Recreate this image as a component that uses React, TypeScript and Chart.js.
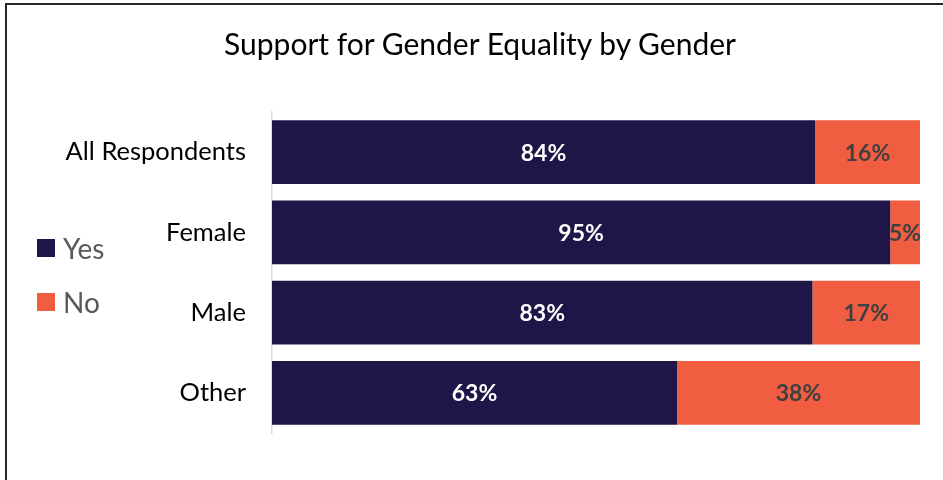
import React, { useEffect, useRef } from "react";
import { Chart, registerables } from "chart.js";

Chart.register(...registerables);

const categories = ["All Respondents", "Female", "Male", "Other"];
const yesValues = [83.8, 95.4, 83.4, 62.5];
const noValues = [16.2, 4.6, 16.6, 37.5];
const seriesNames = ["Yes", "No"];
const seriesColors = ["#201547", "#F15D41"];
const labelColors = ["#FFFFFF", "#404040"];
const titleText = "Support for Gender Equality by Gender";

const FONT = "Lato, 'Open Sans', sans-serif";

const valueLabels = {
  id: "valueLabels",
  afterDatasetsDraw(chart: any) {
    const ctx = chart.ctx;
    ctx.save();
    ctx.font = `bold 23px ${FONT}`;
    ctx.textAlign = "center";
    ctx.textBaseline = "middle";
    chart.data.datasets.forEach((ds: any, di: number) => {
      const meta = chart.getDatasetMeta(di);
      meta.data.forEach((bar: any, i: number) => {
        const v = ds.data[i];
        const x = (bar.x + bar.base) / 2;
        ctx.fillStyle = labelColors[di];
        ctx.fillText(Math.round(v) + "%", x, bar.y + 1);
      });
    });
    ctx.restore();
  },
};

export default function App() {
  const ref = useRef<HTMLCanvasElement>(null);
  useEffect(() => {
    const chart = new Chart(ref.current!, {
      type: "bar",
      data: {
        labels: categories,
        datasets: [
          { label: seriesNames[0], data: yesValues, backgroundColor: seriesColors[0], categoryPercentage: 1, barPercentage: 0.795 },
          { label: seriesNames[1], data: noValues, backgroundColor: seriesColors[1], categoryPercentage: 1, barPercentage: 0.795 },
        ],
      },
      options: {
        indexAxis: "y",
        animation: false,
        responsive: false,
        maintainAspectRatio: false,
        layout: { padding: { left: 12, top: 112, right: 23, bottom: 47 } },
        plugins: { legend: { display: false }, tooltip: { enabled: false }, title: { display: false } },
        scales: {
          x: { stacked: true, min: 0, max: 100, display: false },
          y: {
            stacked: true,
            afterFit: (scale: any) => { scale.width = 260; },
            grid: { display: false, drawTicks: false },
            border: { display: true, color: "#D9D9D9", width: 1.5 },
            ticks: { padding: 26, color: "#000000", font: { family: FONT, size: 25.5 } },
          },
        },
      },
      plugins: [valueLabels],
    });
    return () => chart.destroy();
  }, []);

  return (
    <div style={{ position: "fixed", left: 0, top: 0, width: 943, height: 480, background: "#fff", overflow: "hidden", fontFamily: FONT }}>
      <div style={{ position: "absolute", left: 5, top: 3, width: 1000, height: 1000, borderLeft: "2px solid #262626", borderTop: "2px solid #262626" }} />
      <canvas ref={ref} width={943} height={480} style={{ position: "absolute", left: 0, top: 0 }} />
      <div style={{ position: "absolute", left: 0, width: 960, top: 25, textAlign: "center", fontSize: 30, color: "#000", whiteSpace: "nowrap" }}>{titleText}</div>
      {seriesNames.map((n, i) => (
        <div key={n} style={{ position: "absolute", left: 37, top: 231 + i * 54, height: 34, display: "flex", alignItems: "center" }}>
          <div style={{ width: 18, height: 18, background: seriesColors[i], marginRight: 8 }} />
          <span style={{ fontSize: 28, color: "#595959" }}>{n}</span>
        </div>
      ))}
    </div>
  );
}
